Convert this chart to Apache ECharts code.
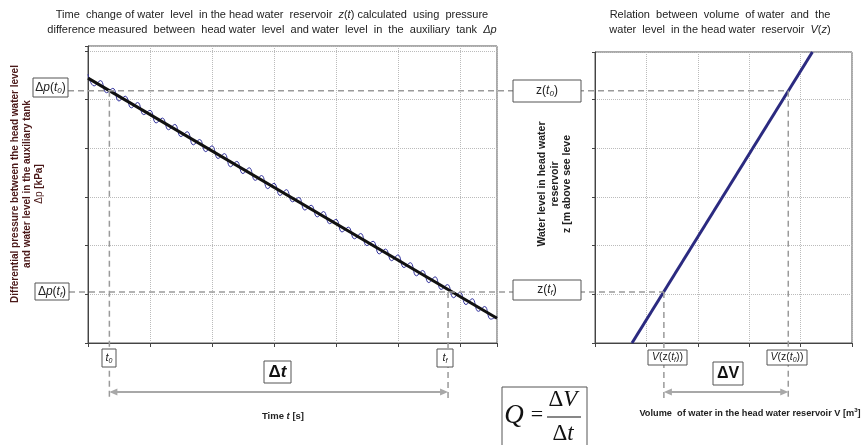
<!DOCTYPE html>
<html><head><meta charset="utf-8">
<script src="https://cdn.jsdelivr.net/npm/echarts@6/dist/echarts.min.js"></script>
<style>html,body{margin:0;padding:0;background:#fff}#c{width:863px;height:445px}</style>
</head><body><div id="c"></div>
<script>
// ---- data ----
const timeS = [0,0.1,0.2,0.3,0.4,0.5,0.6,0.7,0.8,0.9,1.0,1.1,1.2,1.3,1.4,1.5,1.6,1.7,1.8,1.9,2.0,2.1,2.2,2.3,2.4,2.5,2.6,2.7,2.8,2.9,3.0,3.1,3.2,3.3,3.4,3.5,3.6,3.7,3.8,3.9,4.0,4.1,4.2,4.3,4.4,4.5,4.6,4.7,4.8,4.9,5.0,5.1,5.2,5.3,5.4,5.5,5.6,5.7,5.8,5.9,6.0,6.1,6.2,6.3,6.4,6.5,6.6];
const deltaPMeasured = [5.52,5.28,5.39,5.14,5.23,4.97,5.07,4.83,4.94,4.69,4.78,4.52,4.62,4.38,4.49,4.24,4.34,4.07,4.18,3.93,4.05,3.79,3.89,3.62,3.73,3.48,3.60,3.34,3.44,3.17,3.28,3.03,3.15,2.90,2.99,2.73,2.83,2.59,2.70,2.45,2.54,2.28,2.38,2.14,2.25,2.00,2.09,1.83,1.93,1.69,1.81,1.55,1.65,1.38,1.49,1.24,1.36,1.10,1.20,0.93,1.04,0.79,0.91,0.65,0.75,0.49,0.55];
const trendTime = [0, 6.6];
const trendDeltaP = [5.44, 0.51];
const volumeV = [0.72, 4.23];
const levelZ = [0, 5.98];
const markTime = [0.345, 5.81];      // t0, tf
const markDeltaP = [5.18, 1.05];     // Δp(t0), Δp(tf)  (= z(t0), z(tf))
const markVolume = [3.76, 1.34];     // V(z(t0)), V(z(tf))

const chart = echarts.init(document.getElementById('c'), null, {renderer: 'canvas'});
const SANS = '"Liberation Sans", Arial, sans-serif';
const SERIF = '"Liberation Serif", "Times New Roman", serif';

function xAx(g, max) {
  return {type: 'value', gridIndex: g, min: 0, max: max, interval: 1,
    axisLine: {show: true, onZero: false, lineStyle: {color: '#444', width: 1}},
    axisTick: {show: true, length: 4, lineStyle: {color: '#444'}},
    axisLabel: {show: false},
    splitLine: {show: true, lineStyle: {type: 'dotted', color: '#bbb'}}};
}
function yAx(g, max) {
  return {type: 'value', gridIndex: g, min: 0, max: max, interval: 1,
    axisLine: {show: true, onZero: false, lineStyle: {color: '#444', width: 1}},
    axisTick: {show: true, length: 3, lineStyle: {color: '#444'}},
    axisLabel: {show: false},
    splitLine: {show: true, lineStyle: {type: 'dotted', color: '#bbb'}}};
}

chart.setOption({
  animation: false,
  backgroundColor: '#fff',
  grid: [
    {left: 88, top: 46, width: 409, height: 297, show: true, borderColor: '#555', borderWidth: 1},
    {left: 595, top: 52, width: 257, height: 291, show: true, borderColor: '#555', borderWidth: 1}
  ],
  xAxis: [xAx(0, 6.6), xAx(1, 5)],
  yAxis: [yAx(0, 6.1), yAx(1, 5.98)],
  series: [
    {type: 'line', xAxisIndex: 0, yAxisIndex: 0, showSymbol: false, smooth: 0.5, z: 3,
     lineStyle: {color: '#34349e', width: 1},
     data: timeS.map((t, i) => [t, deltaPMeasured[i]])},
    {type: 'line', xAxisIndex: 0, yAxisIndex: 0, showSymbol: false, z: 4,
     lineStyle: {color: '#111', width: 3},
     data: trendTime.map((t, i) => [t, trendDeltaP[i]])},
    {type: 'line', xAxisIndex: 1, yAxisIndex: 1, showSymbol: false, z: 4,
     lineStyle: {color: '#2b2a80', width: 3},
     data: volumeV.map((v, i) => [v, levelZ[i]])}
  ]
});

const px = (g, x, y) => chart.convertToPixel({gridIndex: g}, [x, y]);
const [xt0, yp0] = px(0, markTime[0], markDeltaP[0]);
const [xtf, ypf] = px(0, markTime[1], markDeltaP[1]);
const [xv0] = px(1, markVolume[0], markDeltaP[0]);
const [xvf] = px(1, markVolume[1], markDeltaP[1]);
const arrowY = 392, dashBottom = 398;

const dash = {stroke: '#9a9a9a', lineWidth: 1.5, lineDash: [6, 4]};
const G = [];
function dline(x1, y1, x2, y2) { G.push({type: 'line', z: 5, shape: {x1, y1, x2, y2}, style: dash}); }
function box(x, y, w, h, lw) { G.push({type: 'rect', z: 10, shape: {x, y, width: w, height: h}, style: {fill: '#fff', stroke: '#555', lineWidth: lw || 1}}); }
function txt(x, y, text, o) {
  o = o || {};
  const fs = o.fontSize || 12;
  const lh = o.lineHeight || fs + 2;
  const fam = o.fontFamily || SANS;
  const col = o.fill || '#222';
  const base = {fontSize: fs, fontFamily: fam, fontWeight: o.fontWeight || 'normal', fill: col, lineHeight: lh, verticalAlign: 'middle'};
  G.push({type: 'text', z: 11, x, y, rotation: o.rotation || 0,
    style: {text, align: 'center', verticalAlign: 'middle',
      fontSize: fs, fontFamily: fam, fontWeight: o.fontWeight || 'normal', fontStyle: o.fontStyle || 'normal', fill: col, lineHeight: lh,
      rich: {
        i: Object.assign({}, base, {fontStyle: 'italic'}),
        b: Object.assign({}, base, {fontWeight: 'bold'}),
        bi: Object.assign({}, base, {fontWeight: 'bold', fontStyle: 'italic'}),
        n: Object.assign({}, base, {fontWeight: 'normal'}),
        s: Object.assign({}, base, {fontSize: Math.round(fs * 0.68), fontStyle: 'italic', verticalAlign: 'bottom', lineHeight: Math.round(fs * 0.7)}),
        sup: Object.assign({}, base, {fontSize: Math.round(fs * 0.65), verticalAlign: 'top', lineHeight: Math.round(fs * 0.7)})
      }}});
}
function arrow(x1, x2, y) {
  const c = '#a8a8a8';
  G.push({type: 'line', z: 6, shape: {x1: x1 + 2, y1: y, x2: x2 - 2, y2: y}, style: {stroke: c, lineWidth: 2}});
  G.push({type: 'polygon', z: 6, shape: {points: [[x1, y], [x1 + 8, y - 3.5], [x1 + 8, y + 3.5]]}, style: {fill: c}});
  G.push({type: 'polygon', z: 6, shape: {points: [[x2, y], [x2 - 8, y - 3.5], [x2 - 8, y + 3.5]]}, style: {fill: c}});
}

// guide lines
dline(68, yp0, xv0, yp0);
dline(69, ypf, xvf, ypf);
dline(xt0, yp0, xt0, dashBottom);
dline(xtf, ypf, xtf, dashBottom);
dline(xv0, yp0, xv0, dashBottom);
dline(xvf, ypf, xvf, dashBottom);
arrow(xt0, xtf, arrowY);
arrow(xvf, xv0, arrowY);

// titles
txt(272, 22, 'Time  change of water  level  in the head water  reservoir  {i|z}({i|t}) calculated  using  pressure\ndifference measured  between  head water  level  and water  level  in  the  auxiliary  tank  {i|Δp}', {fontSize: 11, fill: '#222', lineHeight: 15});
txt(720, 22, 'Relation  between  volume  of water  and  the\nwater  level  in the head water  reservoir  {i|V}({i|z})', {fontSize: 11, fill: '#222', lineHeight: 15});

// axis names
txt(27, 184, 'Differential pressure between the head water level\nand water level in the auxiliary tank\n{n|Δp} [kPa]', {fontSize: 10, fontWeight: 'bold', fill: '#4a1818', lineHeight: 12, rotation: Math.PI / 2});
txt(555, 184, 'Water level in head water\nreservoir\nz [m above see leve', {fontSize: 10.5, fontWeight: 'bold', fill: '#222', lineHeight: 12.5, rotation: Math.PI / 2});
txt(283, 416, 'Time {bi|t} [s]', {fontSize: 9.5, fontWeight: 'bold', fill: '#222'});
txt(750, 413, 'Volume  of water in the head water reservoir V [m{sup|3}]', {fontSize: 9.2, fontWeight: 'bold', fill: '#222'});

// label boxes
box(33, 78, 35, 19); txt(50.5, 87.5, 'Δ{i|p}({i|t}{s|0})', {fontSize: 12});
box(35, 283, 34, 17); txt(52, 291.5, 'Δ{i|p}({i|t}{s|f})', {fontSize: 12});
box(513, 80, 68, 22); txt(547, 91, 'z({i|t}{s|0})', {fontSize: 12});
box(513, 280, 68, 20); txt(547, 290, 'z({i|t}{s|f})', {fontSize: 12});
box(102, 349, 14, 18); txt(109, 358, '{i|t}{s|0}', {fontSize: 11});
box(437, 349, 16, 18); txt(445, 358, '{i|t}{s|f}', {fontSize: 11});
box(264, 361, 27, 22); txt(277.5, 372, 'Δ{bi|t}', {fontSize: 17, fontWeight: 'bold', fill: '#111'});
box(648, 350, 39, 15); txt(667.5, 357.5, '{i|V}(z({i|t}{s|f}))', {fontSize: 10.5});
box(767, 350, 40, 15); txt(787, 357.5, '{i|V}(z({i|t}{s|0}))', {fontSize: 10.5});
box(713, 362, 30, 23); txt(728, 373.5, 'ΔV', {fontSize: 16, fontWeight: 'bold', fill: '#111'});

// formula
box(502, 387, 85, 62);
txt(514, 416, '{i|Q}', {fontSize: 27, fontFamily: SERIF, fill: '#111', lineHeight: 30});
txt(537, 415, '=', {fontSize: 22, fontFamily: SERIF, fill: '#111', lineHeight: 26});
G.push({type: 'line', z: 11, shape: {x1: 547, y1: 417, x2: 581, y2: 417}, style: {stroke: '#111', lineWidth: 1.2}});
txt(563, 400, 'Δ{i|V}', {fontSize: 23, fontFamily: SERIF, fill: '#111', lineHeight: 26});
txt(563, 434, 'Δ{i|t}', {fontSize: 23, fontFamily: SERIF, fill: '#111', lineHeight: 26});

chart.setOption({graphic: G});
</script></body></html>
